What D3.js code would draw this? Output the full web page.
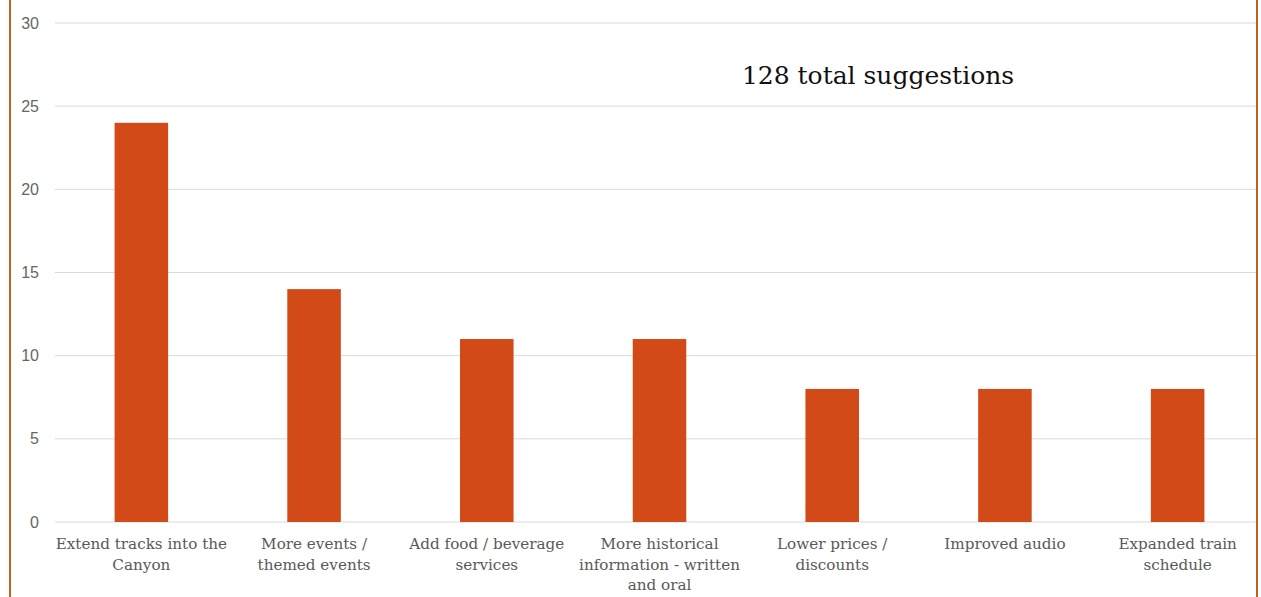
<!DOCTYPE html>
<html>
<head>
<meta charset="utf-8">
<script src="https://cdn.jsdelivr.net/npm/d3@7"></script>
<style>
  body { margin: 0; background: #fff; }
  svg { display: block; }
</style>
</head>
<body>
<div id="chart"></div>
<script>
// suggestions per category
var categories = [
  ["Extend tracks into the", "Canyon"],
  ["More events /", "themed events"],
  ["Add food / beverage", "services"],
  ["More historical", "information - written", "and oral"],
  ["Lower prices /", "discounts"],
  ["Improved audio"],
  ["Expanded train", "schedule"]
];
var counts = [24, 14, 11, 11, 8, 8, 8];
var yTicks = [0, 5, 10, 15, 20, 25, 30];

var width = 1261, height = 597;
var font = "'DejaVu Serif', serif";

var svg = d3.select('#chart')
  .append('svg')
  .attr('width', width)
  .attr('height', height);

var x = d3.scaleBand()
  .domain(d3.range(categories.length))
  .range([55, 1264])
  .paddingInner(0.69)
  .paddingOuter(0.345);

var y = d3.scaleLinear()
  .domain([0, 30])
  .range([522, 23]);

// gridlines
svg.append('g')
  .selectAll('line')
  .data(yTicks)
  .enter()
  .append('line')
    .attr('x1', 55)
    .attr('x2', 1257)
    .attr('y1', function(d){ return y(d); })
    .attr('y2', function(d){ return y(d); })
    .attr('stroke', '#d9d9d9')
    .attr('stroke-width', 1);

// y tick labels
svg.append('g')
  .selectAll('text')
  .data(yTicks)
  .enter()
  .append('text')
    .attr('x', 39)
    .attr('y', function(d){ return y(d); })
    .attr('text-anchor', 'end')
    .attr('dominant-baseline', 'central')
    .attr('fill', '#666')
    .style('font-family', "'Liberation Sans', Arial, sans-serif")
    .style('font-size', '16px')
    .text(function(d){ return d; });

// bars
svg.append('g')
  .selectAll('rect')
  .data(counts)
  .enter()
  .append('rect')
    .attr('x', function(d,i){ return x(i); })
    .attr('y', function(d){ return y(d); })
    .attr('width', x.bandwidth())
    .attr('height', function(d){ return y(0) - y(d); })
    .attr('fill', '#d24a18');

// category labels
var labels = svg.append('g')
  .selectAll('text')
  .data(categories)
  .enter()
  .append('text')
    .attr('text-anchor', 'middle')
    .attr('fill', '#595959')
    .style('font-family', font)
    .style('font-size', '15.2px')
    .attr('transform', function(d,i){ return "translate(" + (x(i) + x.bandwidth()/2) + ", 549)"; });

labels.selectAll('tspan')
  .data(function(d){ return d; })
  .enter()
  .append('tspan')
    .attr('x', 0)
    .attr('y', function(d,i){ return i*20.5; })
    .text(function(d){ return d; });

// annotation
svg.append('text')
  .attr('x', 878)
  .attr('y', 84)
  .attr('text-anchor', 'middle')
  .attr('fill', '#111')
  .style('font-family', font)
  .style('font-size', '25px')
  .text('128 total suggestions');

// frame sides
svg.append('line')
  .attr('x1', 10).attr('x2', 10)
  .attr('y1', 0).attr('y2', height)
  .attr('stroke', '#b8651f').attr('stroke-width', 2);
svg.append('line')
  .attr('x1', 1257).attr('x2', 1257)
  .attr('y1', 0).attr('y2', height)
  .attr('stroke', '#b8651f').attr('stroke-width', 2);
</script>
</body>
</html>
